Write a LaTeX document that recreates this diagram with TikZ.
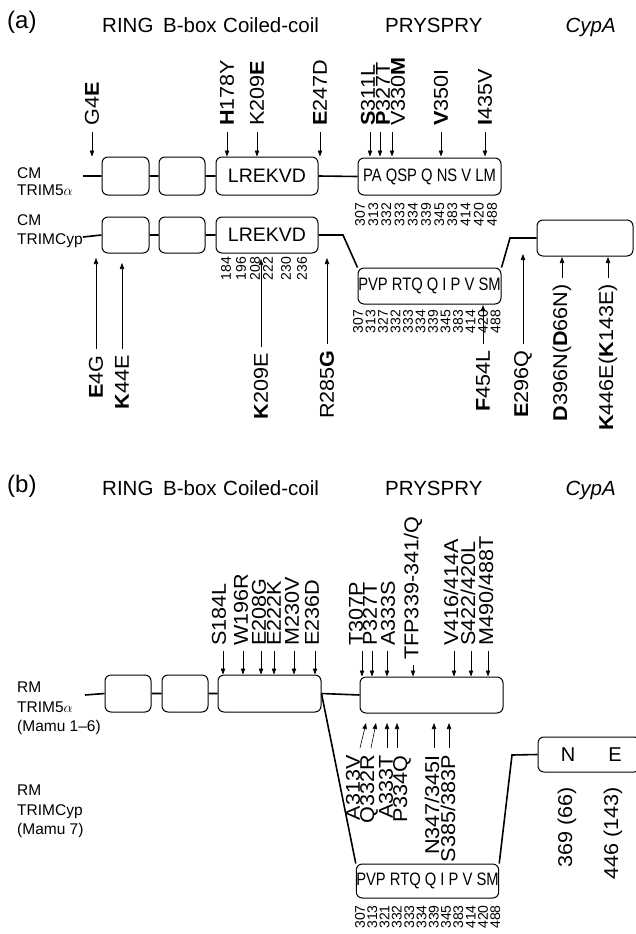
\documentclass[tikz,border=0pt]{standalone}
\usepackage{fontspec}
\setmainfont{Liberation Sans}
\newfontfamily\condsf[FakeStretch=0.82]{Liberation Sans}
\newfontfamily\mutsf[FakeStretch=1.08]{Liberation Sans}
\usetikzlibrary{arrows.meta, positioning, calc}

\begin{document}
\begin{tikzpicture}[x=1pt, y=-1pt]

% ---- Styles -----------------------------------------------------------------
\tikzset{
  dom/.style={draw, line width=1pt, rounded corners=6pt, inner sep=0pt},
  link/.style={line width=1.6pt},
  ptr/.style={-{Triangle[length=6pt, width=4.4pt]}, line width=0.6pt},
  mut/.style={font=\mutsf\fontsize{20}{21}\selectfont, rotate=90, inner sep=0pt},
  resnum/.style={font=\fontsize{14}{14}\selectfont, rotate=90, anchor=east, inner sep=0pt},
  hdr/.style={font=\fontsize{20.5}{24}\selectfont, anchor=base west, inner sep=0pt},
  tag/.style={font=\fontsize{15.5}{18}\selectfont, anchor=base west, inner sep=0pt},
  seq/.style={font=\condsf\fontsize{18}{18}\selectfont},
  cc/.style={font=\fontsize{19.5}{20}\selectfont},
  panel/.style={font=\fontsize{24}{24}\selectfont, anchor=base west, inner sep=0pt},
}

\def\hA{33}   % header baseline, panel (a)
\def\hB{495}  % header baseline, panel (b)

\useasboundingbox (0,0) rectangle (635,934);

% ---- Panel (a): headers -----------------------------------------------------
\node[panel] (pA) at (7,29) {(a)};
\node[hdr] (hRingA) at (102,\hA) {RING};
\node[hdr] (hBboxA) at (163,\hA) {B-box};
\node[hdr] (hCoilA) at (223,\hA) {Coiled-coil};
\node[hdr] (hSpryA) at (385,\hA) {PRYSPRY};
\node[hdr, anchor=base east] (hCypA) at (616,\hA) {\itshape CypA};

% ---- CM TRIM5alpha ------------------------------------------------------------
\node[tag] (tCM1) at (17,178) {CM};
\node[tag] (tTrim1) at (17,195) {TRIM5$\alpha$};
\coordinate (aS1) at (83,176);
\node[dom, minimum width=47, minimum height=38] (aR1) at (125.5,176) {};
\node[dom, minimum width=46, minimum height=38] (aB1) at (182,176) {};
\node[dom, cc, minimum width=102, minimum height=38] (aC1) at (267,176) {LREKVD};
\node[dom, seq, minimum width=143, minimum height=37] (aP1) at (429.5,176.5) {PA QSP Q NS V LM};
\draw[link] (aS1) -- (aR1.west) (aR1.east) -- (aB1.west) (aB1.east) -- (aC1.west)
  (aC1.east) -- (aP1.west);

\foreach \ax/\lx/\txt [count=\i] in {92/92/{G4\textbf{E}}, 227/227/{\textbf{H}178Y},
    257/257/{K209\textbf{E}}, 320/320/{\textbf{E}247D}, 370/368/{\textbf{S}311L},
    380/383/{\textbf{P}327T}, 392/398/{V330\textbf{M}}, 441/441/{\textbf{V}350I},
    485/485/{\textbf{I}435V}}{
  \node[mut, anchor=west] (mA\i) at (\lx,126) {\txt};
  \coordinate (q) at ($(mA\i.west)+(\ax-\lx,6)$);
  \draw[ptr] (q) -- (q |- aR1.north);
}

\foreach \n [count=\i] in {307,313,332,333,334,339,345,383,414,420,488}
  \node[resnum] (nA\i) at (360+13.2*\i-13.2,203) {\n};

% ---- CM TRIMCyp ---------------------------------------------------------------
\node[tag] (tCM2) at (17,225) {CM};
\node[tag] (tTrim2) at (17,244) {TRIMCyp};
\coordinate (aS2) at (83,237);
\node[dom, minimum width=47, minimum height=36] (aR2) at (125.5,235) {};
\node[dom, minimum width=46, minimum height=36] (aB2) at (182,235) {};
\node[dom, cc, minimum width=102, minimum height=36] (aC2) at (267,235) {LREKVD};
\node[dom, seq, minimum width=143, minimum height=36] (aV2) at (429.5,286) {PVP RTQ Q I P V SM};
\node[dom, minimum width=96, minimum height=36] (aY2) at (585,238) {};
\coordinate (aK1) at (343,235);
\coordinate (aK2) at (510,238);
\draw[link] (aS2) -- (aR2.west) (aR2.east) -- (aB2.west) (aB2.east) -- (aC2.west);
\draw[link] (aC2.east) -- (aK1) -- (aV2.north west);
\draw[link] (aV2.north east) -- (aK2) -- (aY2.west);

\foreach \x/\n [count=\i] in {226/184,241/196,255/208,268/222,286/230,302/236}
  \node[resnum] (nC\i) at (\x,257) {\n};
\foreach \n [count=\i] in {307,313,327,332,333,334,339,345,383,414,420,488}
  \node[resnum] (nV\i) at (358+12.5*\i-12.5,310) {\n};

\foreach \ax/\yt/\tip/\txt [count=\i] in {96/355/258/{\textbf{E}4G},
    122/355/263/{\textbf{K}44E}, 261/353/259/{\textbf{K}209E},
    327/350/258/{R285\textbf{G}}, 483/350/305/{\textbf{F}454L},
    523/350/254/{\textbf{E}296Q}, 562/284/257/{\textbf{D}396N(\textbf{D}66N)},
    608/284/257/{\textbf{K}446E(\textbf{K}143E)}}{
  \node[mut, anchor=east] (mB\i) at (\ax,\yt) {\txt};
  \coordinate (q) at ($(mB\i.east)+(0,-6)$);
  \draw[ptr] (q) -- (q |- 0,\tip);
}

% ---- Panel (b): headers -----------------------------------------------------
\node[panel] (pB) at (7,492) {(b)};
\node[hdr] (hRingB) at (102,\hB) {RING};
\node[hdr] (hBboxB) at (163,\hB) {B-box};
\node[hdr] (hCoilB) at (223,\hB) {Coiled-coil};
\node[hdr] (hSpryB) at (385,\hB) {PRYSPRY};
\node[hdr, anchor=base east] (hCypB) at (616,\hB) {\itshape CypA};

% ---- RM TRIM5alpha (Mamu 1-6) ---------------------------------------------------
\node[tag] (tRM1) at (17,692) {RM};
\node[tag] (tTrim3) at (17,712) {TRIM5$\alpha$};
\node[tag] (tMamu1) at (17,731) {(Mamu 1–6)};
\coordinate (bS1) at (85,695);
\node[dom, minimum width=46, minimum height=37] (bR1) at (128,693.5) {};
\node[dom, minimum width=46, minimum height=37] (bB1) at (185,693.5) {};
\node[dom, minimum width=103, minimum height=37] (bC1) at (269.5,693.5) {};
\node[dom, minimum width=143, minimum height=36] (bP1) at (431.5,695) {};
\draw[link] (bS1) -- (bR1.west) (bR1.east) -- (bB1.west) (bB1.east) -- (bC1.west)
  (bC1.east) -- (bP1.west);

\foreach \ax/\lx/\yb/\bx/\txt [count=\i] in {223/219/646/bC1/{S184L},
    243/241/646/bC1/{W196R}, 261/259/646/bC1/{E208G}, 274/274/646/bC1/{E222K},
    294/292/646/bC1/{M230V}, 315/312/646/bC1/{E236D}, 362/356/646/bP1/{T307P},
    372/370/646/bP1/{P327T}, 387/388/646/bP1/{A333S}, 413/413/660/bP1/{TFP339-341/Q},
    454/451/646/bP1/{V416/414A}, 471/468/646/bP1/{S422/420L},
    488/486/646/bP1/{M490/488T}}{
  \node[mut, anchor=west] (mC\i) at (\lx,\yb) {\txt};
  \coordinate (q) at ($(mC\i.west)+(\ax-\lx,5)$);
  \draw[ptr] (q) -- (q |- \bx.north);
}

\foreach \lx/\sx/\tx/\txt [count=\i] in {353/360/366/{A313V}, 369/371/376/{Q332R},
    386/387/387/{A333T}, 402/397/397/{P334Q}, 432/434/434/{N347/345I},
    448/449/449/{S385/383P}}{
  \node[mut, anchor=east] (mD\i) at (\lx,755) {\txt};
  \draw[ptr] ($(mD\i.east)+(\sx-\lx,-7)$) -- ($(mD\i.east)+(\tx-\lx,-32)$);
}

% ---- RM TRIMCyp (Mamu 7) --------------------------------------------------------
\node[tag] (tRM2) at (17,795) {RM};
\node[tag] (tTrim4) at (17,815) {TRIMCyp};
\node[tag] (tMamu2) at (17,834) {(Mamu 7)};
\node[dom, seq, minimum width=141, minimum height=34] (bV2) at (427.5,881) {PVP RTQ Q I P V SM};
\node[dom, minimum width=102, minimum height=35] (bY2) at (589,754.5) {};
\coordinate (bK2) at (512,755);
\draw[link] (bC1.east) -- (bV2.north west);
\draw[link] (bV2.north east) -- (bK2) -- (bY2.west);

\node[cc, font=\fontsize{20}{20}\selectfont] (bN) at (568,755) {N};
\node[cc, font=\fontsize{20}{20}\selectfont] (bE) at (615,755) {E};
\node[mut, anchor=east] (bQ1) at (567,787) {369 (66)};
\node[mut, anchor=east] (bQ2) at (613,787) {446 (143)};

\foreach \n [count=\i] in {307,313,321,332,333,334,339,345,383,414,420,488}
  \node[resnum] (nB\i) at (360+12.3*\i-12.3,905) {\n};

\end{tikzpicture}
\end{document}
